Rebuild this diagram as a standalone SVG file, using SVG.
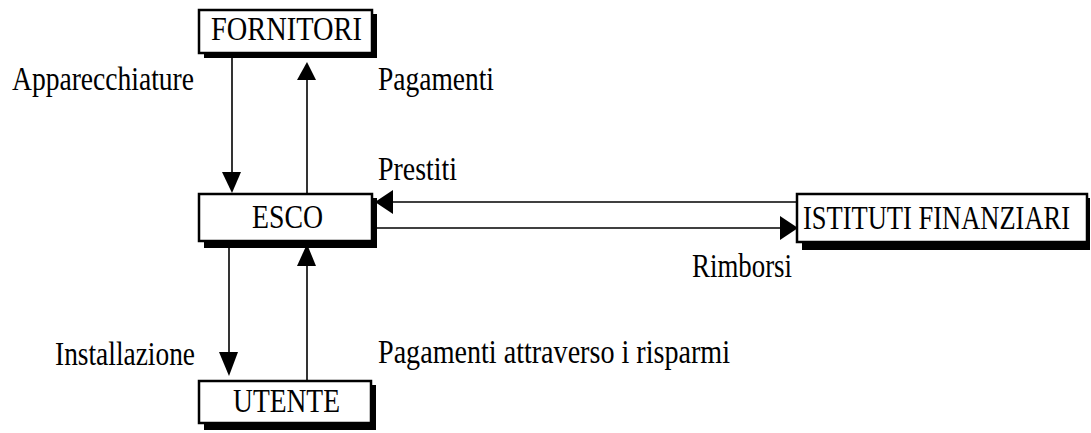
<svg xmlns="http://www.w3.org/2000/svg" width="1091" height="433" viewBox="0 0 1091 433">
<style>
.t{font-family:"Liberation Serif","Times New Roman",serif;font-size:33px;fill:#000}
.box{fill:#fff;stroke:#000;stroke-width:2.5}
.sh{fill:#000}
.ln{stroke:#000;stroke-width:1.6;fill:none}
.ah{fill:#000}
</style>
<rect width="1091" height="433" fill="#fff"/>
<g id="connectors">
<line class="ln" x1="232" y1="55" x2="232" y2="175"/>
<polygon class="ah" points="222,172 241,172 232,193"/>
<line class="ln" x1="307" y1="80" x2="307" y2="193"/>
<polygon class="ah" points="297,80 316,80 307,62"/>
<line class="ln" x1="392" y1="202" x2="797" y2="202"/>
<polygon class="ah" points="393,190 393,214 375,202"/>
<line class="ln" x1="376" y1="228" x2="782" y2="228"/>
<polygon class="ah" points="780,216 780,240 798,228"/>
<line class="ln" x1="229" y1="248" x2="229" y2="355"/>
<polygon class="ah" points="219,352 238,352 229,376"/>
<line class="ln" x1="307" y1="264" x2="307" y2="380"/>
<polygon class="ah" points="297,266 316,266 307,244"/>
</g>
<g id="fornitori">
<rect class="sh" x="204" y="14" width="173" height="44"/>
<rect class="box" x="199" y="10" width="173" height="43"/>
<text class="t" x="211" y="40" textLength="151" lengthAdjust="spacingAndGlyphs">FORNITORI</text>
</g>
<g id="esco">
<rect class="sh" x="204" y="198" width="173" height="50"/>
<rect class="box" x="199" y="194" width="173" height="47"/>
<text class="t" x="252" y="228" textLength="71" lengthAdjust="spacingAndGlyphs">ESCO</text>
</g>
<g id="istituti">
<rect class="sh" x="802" y="198" width="288" height="52"/>
<rect class="box" x="797" y="194" width="290" height="48"/>
<text class="t" style="font-size:26.5px" transform="translate(803 229) scale(1 1.25)" x="0" y="0">ISTITUTI FINANZIARI</text>
</g>
<g id="utente">
<rect class="sh" x="204" y="385" width="172" height="45"/>
<rect class="box" x="199" y="381" width="172" height="42"/>
<text class="t" x="233" y="412" textLength="107" lengthAdjust="spacingAndGlyphs">UTENTE</text>
</g>
<g id="labels">
<text class="t" x="12" y="90" textLength="182" lengthAdjust="spacingAndGlyphs">Apparecchiature</text>
<text class="t" x="378" y="90" textLength="116" lengthAdjust="spacingAndGlyphs">Pagamenti</text>
<text class="t" x="378" y="180" textLength="79" lengthAdjust="spacingAndGlyphs">Prestiti</text>
<text class="t" x="692" y="277" textLength="100" lengthAdjust="spacingAndGlyphs">Rimborsi</text>
<text class="t" x="55" y="365" textLength="140" lengthAdjust="spacingAndGlyphs">Installazione</text>
<text class="t" x="378" y="363" textLength="352" lengthAdjust="spacingAndGlyphs">Pagamenti attraverso i risparmi</text>
</g>
</svg>
